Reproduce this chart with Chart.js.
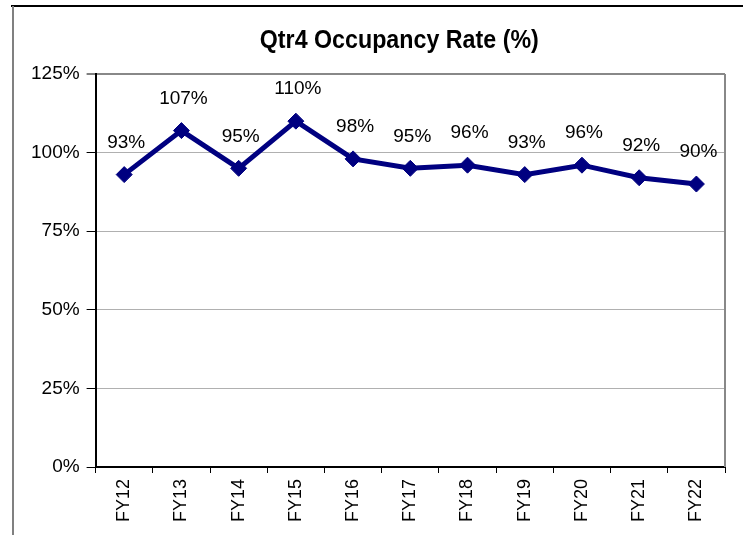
<!DOCTYPE html>
<html>
<head>
<meta charset="utf-8">
<script src="https://cdn.jsdelivr.net/npm/chart.js@4/dist/chart.umd.min.js"></script>
<style>
  html, body { margin: 0; padding: 0; background: #fff; }
  #wrap { position: relative; width: 743px; height: 535px; overflow: hidden; background: #fff; }
  #topline { position: absolute; left: 11px; top: 5px; width: 800px; height: 2px; background: #000; }
  #leftline { position: absolute; left: 12px; top: 6px; width: 2px; height: 600px; background: #808080; }
  canvas { position: absolute; left: 0; top: 0; }
</style>
</head>
<body>
<div id="wrap">
  <div id="topline"></div>
  <div id="leftline"></div>
  <canvas id="c" width="743" height="535"></canvas>
</div>
<script>
const categories = ['FY12','FY13','FY14','FY15','FY16','FY17','FY18','FY19','FY20','FY21','FY22'];
const occupancy = [93, 107, 95, 110, 98, 95, 96, 93, 96, 92, 90];
const yTicks = [0, 25, 50, 75, 100, 125];
const titleText = 'Qtr4 Occupancy Rate (%)';

const FONT = "'Liberation Sans', Arial, sans-serif";

const labelsPlugin = {
  id: 'pointLabels',
  afterDatasetsDraw(chart) {
    const ctx = chart.ctx;
    const meta = chart.getDatasetMeta(0);
    ctx.save();
    ctx.font = '19px ' + FONT;
    ctx.fillStyle = '#000';
    ctx.textAlign = 'center';
    ctx.textBaseline = 'middle';
    meta.data.forEach((pt, i) => {
      ctx.fillText(occupancy[i] + '%', pt.x + 2, pt.y - 32);
    });
    ctx.restore();
  }
};

// Condensed bold title, centred slightly left of the plot-area centre (as in the source)
const titlePlugin = {
  id: 'condTitle',
  afterDraw(chart) {
    const a = chart.chartArea;
    const ctx = chart.ctx;
    ctx.save();
    ctx.font = 'bold 25px ' + FONT;
    ctx.fillStyle = '#000';
    ctx.textAlign = 'center';
    ctx.textBaseline = 'middle';
    const cx = (a.left + a.right) / 2 - 11;
    ctx.translate(cx, a.top - 33);
    ctx.scale(0.93, 1);
    ctx.fillText(titleText, 0, 0);
    ctx.restore();
  }
};

const framePlugin = {
  id: 'plotFrame',
  beforeDatasetsDraw(chart) {
    const a = chart.chartArea;
    const ctx = chart.ctx;
    ctx.save();
    ctx.strokeStyle = '#888';
    ctx.lineWidth = 2;
    ctx.beginPath();
    ctx.moveTo(a.right, a.top);
    ctx.lineTo(a.right, a.bottom);
    ctx.stroke();
    ctx.restore();
  }
};

new Chart(document.getElementById('c'), {
  type: 'line',
  data: {
    labels: categories,
    datasets: [{
      data: occupancy,
      borderColor: '#000080',
      backgroundColor: '#000080',
      borderWidth: 5,
      pointStyle: 'rectRot',
      pointRadius: 8,
      pointBorderWidth: 1,
      pointBackgroundColor: '#000080',
      pointBorderColor: '#000080',
      tension: 0,
      fill: false
    }]
  },
  options: {
    responsive: false,
    animation: false,
    devicePixelRatio: 1,
    layout: { padding: { left: 24, right: 18, top: 74, bottom: 0 } },
    plugins: {
      legend: { display: false },
      tooltip: { enabled: false },
      title: { display: false }
    },
    scales: {
      x: {
        type: 'category',
        offset: true,
        afterFit(s) { s.height = 68; },
        grid: {
          offset: true,
          drawOnChartArea: false,
          drawTicks: true,
          tickLength: 6,
          tickColor: '#000',
          tickWidth: 1
        },
        border: { display: true, color: '#000', width: 2 },
        ticks: {
          color: '#000',
          font: { family: FONT, size: 18 },
          minRotation: 90,
          maxRotation: 90,
          padding: 6,
          autoSkip: false
        }
      },
      y: {
        min: yTicks[0],
        max: yTicks[yTicks.length - 1],
        afterBuildTicks(s) { s.ticks = yTicks.map(v => ({ value: v })); },
        grid: {
          color(ctx) {
            if (ctx.tick && ctx.tick.value === yTicks[yTicks.length - 1]) return '#888';
            if (ctx.tick && ctx.tick.value === yTicks[0]) return 'rgba(0,0,0,0)';
            return '#b0b0b0';
          },
          lineWidth(ctx) {
            return (ctx.tick && ctx.tick.value === yTicks[yTicks.length - 1]) ? 2 : 1;
          },
          tickLength: 9,
          tickColor: '#000',
          tickWidth: 1
        },
        border: { display: true, color: '#000', width: 2 },
        ticks: {
          color: '#000',
          font: { family: FONT, size: 19 },
          padding: 7,
          callback: v => v + '%'
        }
      }
    }
  },
  plugins: [framePlugin, labelsPlugin, titlePlugin]
});
</script>
</body>
</html>
